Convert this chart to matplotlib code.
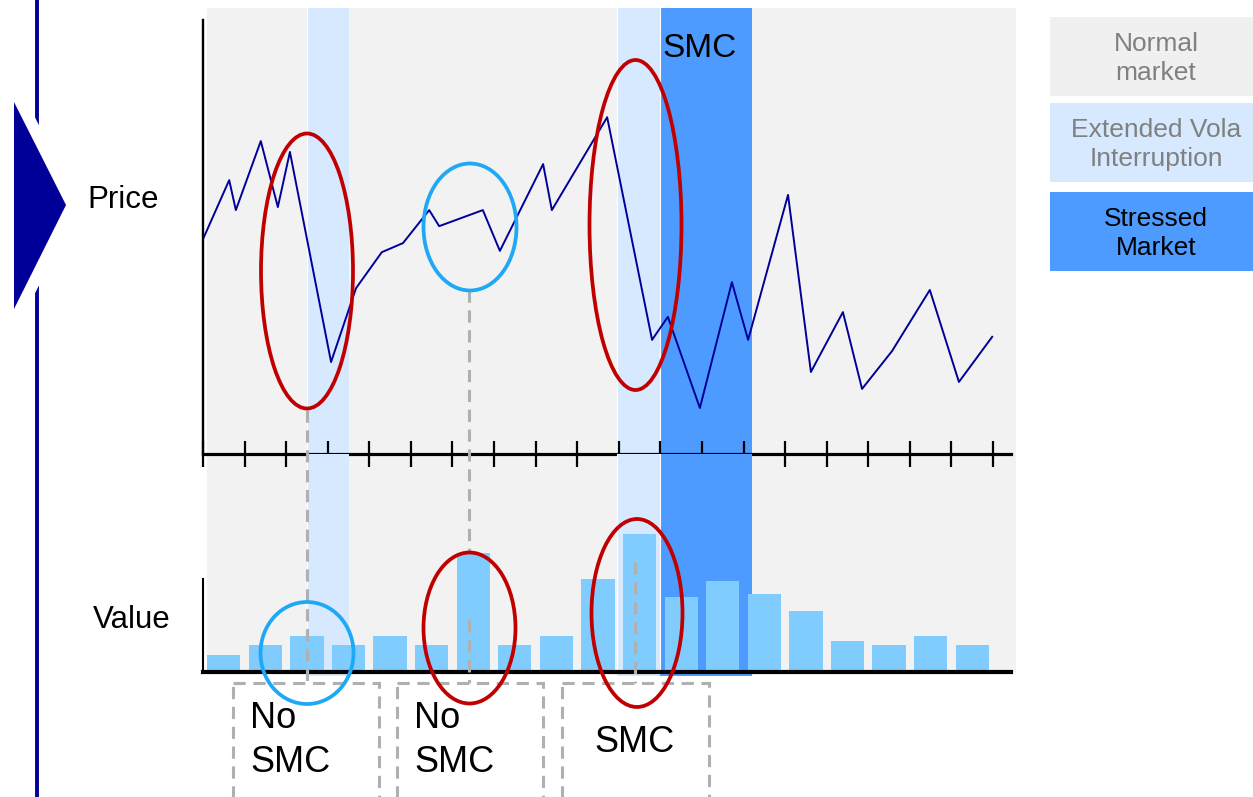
import matplotlib
matplotlib.use("Agg")
import matplotlib.pyplot as plt
from matplotlib.patches import Rectangle, Ellipse, Polygon

plt.rcParams['font.family'] = ['Liberation Sans', 'DejaVu Sans']

# price path (x in tick units, y in arbitrary price units)
price_x = [0, 0.63, 0.79, 1.39, 1.80, 2.09, 3.08, 3.68, 4.30, 4.81, 5.44, 5.68, 6.73, 7.14,
           8.18, 8.39, 9.72, 10.80, 11.18, 11.95, 12.72, 13.11, 14.07, 14.62, 15.39, 15.85,
           16.57, 17.48, 18.18, 18.98]
price_y = [49.5, 63.1, 56.2, 72.1, 56.9, 69.6, 21.2, 38.2, 46.5, 48.6, 56.2, 52.5, 56.2, 46.8,
           66.8, 56.2, 77.6, 26.3, 31.6, 10.6, 39.6, 26.3, 59.7, 18.9, 32.7, 15.0, 23.7,
           37.8, 16.6, 27.0]

# traded value per period
value_x = [i + 0.5 for i in range(19)]
value_y = [17, 27, 36, 27, 36, 27, 119, 27, 36, 93, 138, 75, 91, 78, 61, 31, 27, 36, 27]

# market state phases (in tick units)
vola_phases = [(2.5, 3.5), (9.95, 11.0)]
stress_phases = [(11.0, 13.2)]

n_ticks = 20

GRAY_BG = '#F2F2F2'
LIGHT = '#D6E9FF'
DARK = '#4D9BFF'
BAR = '#80CCFF'
NAVY = '#000099'
RED = '#C00000'
CYAN = '#1FA8F5'
DASH = '#B0B0B0'

W, H = 1253, 797
fig = plt.figure(figsize=(W / 100, H / 100), dpi=100)


def px_axes(l, t, r, b):
    return fig.add_axes([l / W, 1 - b / H, (r - l) / W, (b - t) / H])


# background in pixel coordinates
bg = fig.add_axes([0, 0, 1, 1], zorder=0)
bg.set_xlim(0, W)
bg.set_ylim(H, 0)
bg.axis('off')
bg.add_patch(Rectangle((207, 8), 809, 664, facecolor=GRAY_BG, edgecolor='none'))

unit = 41.58
xmax = (1011 - 203) / unit


def shade(ax, lo):
    for a, b in vola_phases:
        ax.axvspan(a, b, ymin=lo, color=LIGHT, lw=0, zorder=0, clip_on=False)
    for a, b in stress_phases:
        ax.axvspan(a, b, ymin=lo, color=DARK, lw=0, zorder=0, clip_on=False)
    for a, b in vola_phases + stress_phases:
        ax.axvline(a, color='white', lw=0.8, zorder=0.5)


# price panel
ax_p = px_axes(203, 8, 1011, 454)
ax_p.set_zorder(1)
ax_p.patch.set_alpha(0)
ax_p.set_xlim(0, xmax)
ax_p.set_ylim(0, 446 / 4.34)
shade(ax_p, -0.01)
ax_p.plot(price_x, price_y, color=NAVY, lw=1.4, zorder=3)
ax_p.text(11.05, 93.5, 'SMC', fontsize=24, va='center', ha='left', color='black')
for s in ['top', 'right']:
    ax_p.spines[s].set_visible(False)
ax_p.spines['left'].set_bounds(0, 100)
ax_p.spines['left'].set_linewidth(1.7)
ax_p.spines['bottom'].set_linewidth(2.3)
ax_p.set_xticks(range(n_ticks))
ax_p.set_xticklabels([])
ax_p.set_yticks([])
ax_p.tick_params(axis='x', direction='inout', length=19, width=1.6, color='black')

# value panel
ax_v = px_axes(203, 454, 1011, 672)
ax_v.set_zorder(1)
ax_v.patch.set_alpha(0)
ax_v.set_xlim(0, xmax)
ax_v.set_ylim(0, 218)
shade(ax_v, -0.02)
ax_v.bar(value_x, value_y, width=0.8, color=BAR, zorder=2)
for s in ['top', 'right']:
    ax_v.spines[s].set_visible(False)
ax_v.spines['left'].set_bounds(0, 93)
ax_v.spines['left'].set_linewidth(1.5)
ax_v.spines['bottom'].set_linewidth(3)
ax_v.spines['bottom'].set_zorder(5)
ax_v.set_xticks([])
ax_v.set_yticks([])

# annotation overlay
ov = fig.add_axes([0, 0, 1, 1], zorder=3)
ov.set_xlim(0, W)
ov.set_ylim(H, 0)
ov.axis('off')
ov.patch.set_alpha(0)

# dashed connectors
for x, y0, y1 in [(307, 410, 683), (469, 290, 553), (469, 620, 683), (635, 562, 683)]:
    ov.plot([x, x], [y0, y1], color=DASH, lw=2.2, ls=(0, (4, 2.5)))

# dashed boxes
for l, r in [(233, 379), (397, 543), (562, 709)]:
    ov.add_patch(Rectangle((l, 683), r - l, 130, fill=False, edgecolor=DASH,
                           lw=2.2, ls=(0, (4, 2.5)), clip_on=False))
ov.text(250, 718, 'No', fontsize=26, va='center', ha='left')
ov.text(250, 763, 'SMC', fontsize=26, va='center', ha='left')
ov.text(414, 718, 'No', fontsize=26, va='center', ha='left')
ov.text(414, 763, 'SMC', fontsize=26, va='center', ha='left')
ov.text(635, 742, 'SMC', fontsize=26, va='center', ha='center')

# highlight ellipses
for cx, cy, w, h, c in [(307, 271, 92, 275, RED), (470, 227, 93, 127, CYAN),
                        (635.5, 225, 92, 330, RED), (307, 653, 93, 102, CYAN),
                        (469.5, 628, 92, 151, RED), (637, 613, 91, 188, RED)]:
    ov.add_patch(Ellipse((cx, cy), w, h, fill=False, edgecolor=c, lw=2.7, zorder=3))

# left side bar and arrow
ov.plot([37, 37], [0, H], color=NAVY, lw=2.8, solid_capstyle='butt', zorder=1)
tri = [(14, 102), (66, 205), (14, 309)]
ov.add_patch(Polygon(tri, closed=True, facecolor='white', edgecolor='white', lw=17, zorder=2))
ov.add_patch(Polygon(tri, closed=True, facecolor=NAVY, edgecolor='none', zorder=2.5))
ov.text(123, 200, 'Price', fontsize=22.5, va='center', ha='center')
ov.text(132, 620, 'Value', fontsize=22.5, va='center', ha='center')

# legend boxes
legend = [(17, 96, '#F0F0F0', 'Normal\nmarket', '#808080'),
          (103, 182, LIGHT, 'Extended Vola\nInterruption', '#808080'),
          (192, 271, DARK, 'Stressed\nMarket', 'black')]
for t, b, fc, txt, tc in legend:
    ov.add_patch(Rectangle((1050, t), 205, b - t, facecolor=fc, edgecolor='none'))
    ov.text(1156, (t + b) / 2 + 2, txt, fontsize=19, color=tc, ha='center', va='center',
            linespacing=1.3)

fig.savefig('out.png', dpi=100)
